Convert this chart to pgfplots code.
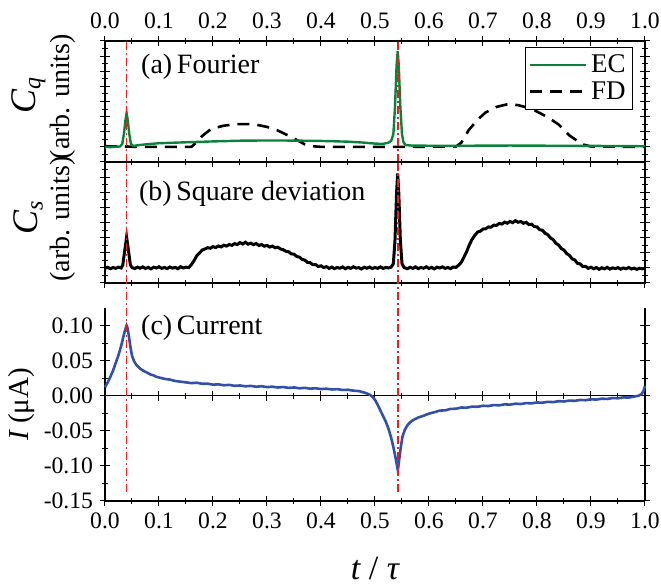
\documentclass[border=0pt]{standalone}
\usepackage{fontspec}
\setmainfont{LiberationSerif}[Extension=.ttf, UprightFont=*-Regular, ItalicFont=*-Italic, BoldFont=*-Bold, BoldItalicFont=*-BoldItalic]
\usepackage{pgfplots}
\pgfplotsset{compat=1.18}
\definecolor{ecgreen}{RGB}{10,130,60}
\definecolor{iblue}{RGB}{50,80,170}
\definecolor{vred}{RGB}{235,30,30}

\tikzset{cfont/.style={rotate=90, font=\fontsize{18}{18}\selectfont},
         afont/.style={rotate=90, font=\fontsize{14}{16}\selectfont}}
\pgfplotsset{
 panel/.style={
  scale only axis, width=270pt, xmin=0, xmax=1,
  xtick={0,0.1,0.2,0.3,0.4,0.5,0.6,0.7,0.8,0.9,1}, minor x tick num=1,
  tick align=center, major tick length=5pt, minor tick length=3pt,
  tick style={black, line width=0.5pt},
  axis line style={line width=0.6pt},
  tick label style={font=\fontsize{11.8}{14}\selectfont},
  /pgf/number format/assume math mode=true,
  xticklabel style={/pgf/number format/.cd, fixed, fixed zerofill, precision=1},
  label style={font=\fontsize{13.5}{16}\selectfont},
  clip=false,
 },
 vline/.style={vred, line width=0.9pt, dash pattern=on 4pt off 1.5pt on 1pt off 1.5pt},
 ecstyle/.style={ecgreen, line width=1.2pt},
 fdstyle/.style={black, line width=1.3pt, dash pattern=on 6pt off 4pt},
}

\begin{document}
\begin{tikzpicture}
% ---------------- panel (a)
\begin{axis}[panel, at={(0pt,169.5pt)}, height=60.5pt,
  ymin=0, ymax=1, ytick={0,0.125,0.25,0.375,0.5,0.625,0.75,0.875,1}, minor y tick num=1,
  yticklabels={}, xticklabel pos=upper,
  legend style={at={(rel axis cs:0.978,0.95)}, anchor=north east, font=\fontsize{13.5}{15}\selectfont, draw=black, line width=0.5pt, inner sep=1.5pt, row sep=-1pt},
  legend cell align=left,
  legend image code/.code={\draw[#1] (0pt,0pt) -- (28pt,0pt);},
]
\addplot[fdstyle, forget plot] coordinates {
(0.000,0.130)(0.040,0.128)(0.060,0.125)(0.160,0.125)(0.170,0.165)(0.180,0.215)
(0.197,0.275)(0.220,0.300)(0.245,0.313)(0.275,0.313)(0.300,0.290)(0.320,0.260)
(0.345,0.207)(0.360,0.170)(0.370,0.146)(0.385,0.130)(0.400,0.125)(0.540,0.125)
(0.650,0.128)(0.660,0.160)(0.673,0.260)(0.690,0.350)(0.705,0.410)(0.725,0.455)
(0.745,0.477)(0.765,0.470)(0.790,0.440)(0.820,0.370)(0.840,0.310)(0.860,0.220)
(0.884,0.146)(0.900,0.128)(1.000,0.125)};
\addplot[ecstyle] coordinates {
(0.000,0.125)(0.010,0.123)(0.020,0.126)(0.028,0.128)(0.032,0.150)(0.035,0.230)
(0.038,0.350)(0.040,0.405)(0.042,0.350)(0.045,0.230)(0.048,0.150)(0.052,0.132)
(0.060,0.138)(0.080,0.148)(0.100,0.155)(0.150,0.163)(0.200,0.170)(0.250,0.176)
(0.300,0.178)(0.350,0.177)(0.400,0.174)(0.450,0.168)(0.480,0.160)(0.500,0.152)
(0.515,0.150)(0.525,0.160)(0.530,0.175)(0.534,0.230)(0.537,0.450)(0.540,0.800)
(0.542,0.915)(0.544,0.800)(0.547,0.450)(0.550,0.230)(0.553,0.160)(0.557,0.140)
(0.570,0.135)(0.650,0.134)(0.750,0.136)(0.850,0.134)(0.950,0.132)(1.000,0.130)};
\addlegendentry{EC}
\addlegendimage{fdstyle}
\addlegendentry{FD}
\addplot[vline, forget plot] coordinates {(0.04,0)(0.04,1)};
\addplot[vline, forget plot] coordinates {(0.542,0)(0.542,1)};
\node[anchor=west, font=\fontsize{14}{16}\selectfont] at (axis cs:0.054,0.79) {(a)\,Fourier};
\node[cfont] at (rel axis cs:-0.142,0.55) {\itshape C\textsubscript{\fontsize{12}{12}\selectfont q}};
\node[afont] at (rel axis cs:-0.078,0.54) {(arb. units)};
\end{axis}
% ---------------- panel (b)
\begin{axis}[panel, at={(0pt,109pt)}, height=60.5pt,
  ymin=0, ymax=1, ytick={0,0.125,0.25,0.375,0.5,0.625,0.75,0.875,1}, minor y tick num=1,
  yticklabels={}, xticklabels={},
]
\addplot[black, line width=1.5pt] coordinates {
(0.000,0.122)(0.005,0.130)(0.010,0.118)(0.015,0.128)(0.020,0.121)(0.025,0.131)
(0.030,0.124)(0.033,0.150)(0.036,0.250)(0.040,0.380)(0.044,0.250)(0.047,0.150)
(0.050,0.128)(0.055,0.119)(0.060,0.131)(0.065,0.122)(0.070,0.133)(0.075,0.120)
(0.080,0.129)(0.085,0.117)(0.090,0.130)(0.095,0.124)(0.100,0.134)(0.105,0.121)
(0.110,0.128)(0.115,0.119)(0.120,0.132)(0.125,0.123)(0.130,0.129)(0.135,0.118)
(0.140,0.135)(0.145,0.124)(0.150,0.131)(0.155,0.127)(0.160,0.152)(0.165,0.185)
(0.170,0.226)(0.175,0.248)(0.180,0.272)(0.185,0.281)(0.190,0.292)(0.195,0.287)
(0.200,0.301)(0.205,0.293)(0.210,0.306)(0.215,0.298)(0.220,0.312)(0.225,0.305)
(0.230,0.318)(0.235,0.311)(0.240,0.325)(0.245,0.318)(0.250,0.334)(0.255,0.322)
(0.260,0.337)(0.265,0.321)(0.270,0.329)(0.275,0.317)(0.280,0.326)(0.285,0.310)
(0.290,0.318)(0.295,0.304)(0.300,0.311)(0.305,0.297)(0.310,0.305)(0.315,0.291)
(0.320,0.296)(0.325,0.281)(0.330,0.275)(0.335,0.262)(0.340,0.258)(0.345,0.241)
(0.350,0.238)(0.355,0.219)(0.360,0.214)(0.365,0.195)(0.370,0.189)(0.375,0.170)
(0.380,0.168)(0.385,0.151)(0.390,0.152)(0.395,0.136)(0.400,0.142)(0.405,0.128)
(0.410,0.135)(0.415,0.121)(0.420,0.131)(0.425,0.119)(0.430,0.128)(0.435,0.122)
(0.440,0.133)(0.445,0.118)(0.450,0.129)(0.455,0.121)(0.460,0.134)(0.465,0.123)
(0.470,0.127)(0.475,0.116)(0.480,0.130)(0.485,0.122)(0.490,0.132)(0.495,0.119)
(0.500,0.128)(0.505,0.121)(0.510,0.133)(0.515,0.120)(0.520,0.129)(0.525,0.124)
(0.530,0.131)(0.534,0.160)(0.537,0.350)(0.540,0.750)(0.542,0.905)(0.544,0.750)
(0.547,0.350)(0.550,0.160)(0.554,0.127)(0.560,0.118)(0.565,0.130)(0.570,0.121)
(0.575,0.133)(0.580,0.119)(0.585,0.128)(0.590,0.122)(0.595,0.134)(0.600,0.120)
(0.605,0.129)(0.610,0.117)(0.615,0.131)(0.620,0.124)(0.625,0.133)(0.630,0.121)
(0.635,0.128)(0.640,0.119)(0.645,0.132)(0.650,0.129)(0.655,0.148)(0.660,0.172)
(0.665,0.215)(0.670,0.262)(0.675,0.318)(0.680,0.362)(0.685,0.395)(0.690,0.421)
(0.695,0.428)(0.700,0.446)(0.705,0.448)(0.710,0.463)(0.715,0.462)(0.720,0.478)
(0.725,0.476)(0.730,0.492)(0.735,0.487)(0.740,0.503)(0.745,0.494)(0.750,0.509)
(0.755,0.499)(0.760,0.515)(0.765,0.502)(0.770,0.508)(0.775,0.494)(0.780,0.501)
(0.785,0.483)(0.790,0.486)(0.795,0.466)(0.800,0.464)(0.805,0.441)(0.810,0.436)
(0.815,0.411)(0.820,0.399)(0.825,0.372)(0.830,0.359)(0.835,0.328)(0.840,0.314)
(0.845,0.285)(0.850,0.272)(0.855,0.243)(0.860,0.229)(0.865,0.200)(0.870,0.190)
(0.875,0.162)(0.880,0.158)(0.885,0.136)(0.890,0.138)(0.895,0.121)(0.900,0.130)
(0.905,0.118)(0.910,0.128)(0.915,0.113)(0.920,0.126)(0.925,0.117)(0.930,0.129)
(0.935,0.115)(0.940,0.125)(0.945,0.119)(0.950,0.127)(0.955,0.114)(0.960,0.124)
(0.965,0.118)(0.970,0.128)(0.975,0.116)(0.980,0.123)(0.985,0.113)(0.990,0.122)
(0.995,0.117)(1.000,0.121)};
\addplot[vline] coordinates {(0.04,0)(0.04,1)};
\addplot[vline] coordinates {(0.542,0)(0.542,1)};
\node[anchor=west, font=\fontsize{14}{16}\selectfont] at (axis cs:0.05,0.74) {(b)\,Square deviation};
\node[cfont] at (rel axis cs:-0.142,0.54) {\itshape C\textsubscript{\fontsize{12}{12}\selectfont s}};
\node[afont] at (rel axis cs:-0.078,0.53) {(arb. units)};
\end{axis}
% ---------------- panel (c) zero line
\begin{axis}[scale only axis, width=270pt, height=96.5pt, at={(0pt,0pt)},
  xmin=0, xmax=1, ymin=-0.15, ymax=0.125,
  axis x line*=middle, axis y line=none,
  xtick={0,0.1,0.2,0.3,0.4,0.5,0.6,0.7,0.8,0.9,1}, minor x tick num=1, xticklabels={},
  tick align=center, major tick length=5pt, minor tick length=3pt,
  tick style={black, line width=0.5pt}, axis line style={line width=0.6pt}]
\addplot[draw=none] coordinates {(0,0)};
\end{axis}
% ---------------- panel (c)
\begin{axis}[panel, at={(0pt,0pt)}, height=96.5pt,
  ymin=-0.15, ymax=0.125, ytick={-0.15,-0.1,-0.05,0,0.05,0.1}, minor y tick num=1,
  axis x line*=bottom, axis y line*=box,
  yticklabel style={/pgf/number format/.cd, fixed, fixed zerofill, precision=2},
  ylabel={{\itshape I} (μA)},
  ylabel style={at={(axis description cs:-0.155,0.5)}, anchor=center, font=\fontsize{14.5}{16}\selectfont},
  xlabel={{\itshape t} / {\itshape τ}},
  xlabel style={at={(axis description cs:0.5,-0.35)}, anchor=center, font=\fontsize{17}{20}\selectfont},
]
\addplot[iblue, line width=1.3pt] coordinates {
(0.000,0.012)(0.005,0.019)(0.010,0.027)(0.015,0.036)(0.020,0.047)(0.025,0.058)
(0.030,0.071)(0.034,0.084)(0.037,0.093)(0.040,0.100)(0.042,0.096)(0.044,0.086)
(0.047,0.070)(0.050,0.057)(0.054,0.049)(0.058,0.044)(0.062,0.041)(0.066,0.038)
(0.070,0.036)(0.075,0.034)(0.080,0.032)(0.085,0.030)(0.090,0.029)(0.095,0.027)
(0.100,0.026)(0.110,0.024)(0.120,0.023)(0.130,0.021)(0.140,0.020)(0.150,0.019)
(0.160,0.018)(0.170,0.0185)(0.180,0.0170)(0.190,0.0172)(0.200,0.0158)(0.210,0.0162)
(0.220,0.0149)(0.230,0.0155)(0.240,0.0141)(0.250,0.0146)(0.260,0.0134)(0.270,0.0140)
(0.280,0.0128)(0.290,0.0135)(0.300,0.0123)(0.310,0.0129)(0.320,0.0117)(0.330,0.0124)
(0.340,0.0112)(0.350,0.0118)(0.360,0.0106)(0.370,0.0112)(0.380,0.0101)(0.390,0.0106)
(0.400,0.0095)(0.410,0.0100)(0.420,0.0089)(0.430,0.0094)(0.440,0.0082)(0.450,0.0085)
(0.460,0.0072)(0.470,0.0066)(0.478,0.0050)(0.485,0.0032)(0.490,0.0015)(0.495,-0.0010)
(0.500,-0.0060)(0.505,-0.0130)(0.510,-0.0210)(0.515,-0.0290)(0.520,-0.0370)(0.525,-0.0470)
(0.530,-0.0600)(0.534,-0.0730)(0.538,-0.0880)(0.541,-0.1010)(0.542,-0.1050)(0.543,-0.1020)
(0.545,-0.0900)(0.548,-0.0720)(0.551,-0.0580)(0.555,-0.0490)(0.560,-0.0420)(0.565,-0.0380)
(0.570,-0.0350)(0.575,-0.0330)(0.580,-0.0310)(0.590,-0.0285)(0.600,-0.0255)(0.610,-0.0235)
(0.620,-0.0212)(0.630,-0.0208)(0.640,-0.0188)(0.650,-0.0185)(0.660,-0.0168)(0.670,-0.0170)
(0.680,-0.0155)(0.690,-0.0158)(0.700,-0.0143)(0.710,-0.0147)(0.720,-0.0133)(0.730,-0.0137)
(0.740,-0.0123)(0.750,-0.0127)(0.760,-0.0114)(0.770,-0.0118)(0.780,-0.0105)(0.790,-0.0109)
(0.800,-0.0096)(0.810,-0.0100)(0.820,-0.0087)(0.830,-0.0091)(0.840,-0.0078)(0.850,-0.0082)
(0.860,-0.0069)(0.870,-0.0073)(0.880,-0.0060)(0.890,-0.0064)(0.900,-0.0051)(0.910,-0.0055)
(0.920,-0.0042)(0.930,-0.0046)(0.940,-0.0033)(0.950,-0.0036)(0.960,-0.0024)(0.970,-0.0026)
(0.980,-0.0012)(0.988,0.0000)(0.993,0.0020)(0.997,0.0060)(1.000,0.0140)};
\addplot[vline] coordinates {(0.04,-0.137)(0.04,0.162)};
\addplot[vline] coordinates {(0.542,-0.137)(0.542,0.162)};
\node[anchor=west, font=\fontsize{14}{16}\selectfont] at (axis cs:0.054,0.097) {(c)\,Current};
\end{axis}
\pgfresetboundingbox
\path[use as bounding box] (-52.5pt,-41.5pt) rectangle (278pt,250.5pt);
\end{tikzpicture}
\end{document}
